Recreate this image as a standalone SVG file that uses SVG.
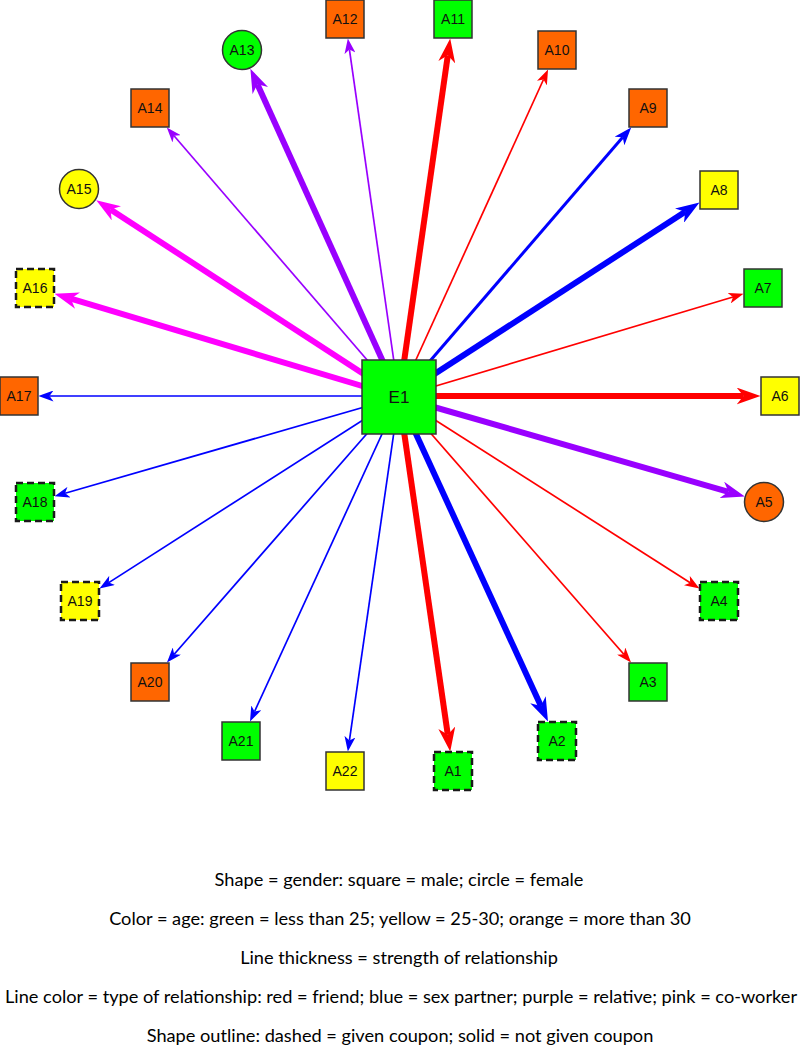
<svg xmlns="http://www.w3.org/2000/svg" width="800" height="1050" viewBox="0 0 800 1050">
<style>
.n{stroke:#333;stroke-width:1.5}
.d{stroke:#1a1a1a;stroke-width:2.5;stroke-dasharray:7,4}
.g{fill:#00ff00}.y{fill:#ffff00}.o{fill:#ff6600}
.t{font-family:"Liberation Sans",Arial,sans-serif;font-size:14px;fill:#111;text-anchor:middle;dominant-baseline:central}
.e{fill:none;stroke-linecap:butt}
.red{stroke:#ff0000}.blue{stroke:#0000ff}.pur{stroke:#9900ff}.pink{stroke:#ff00ff}
.thin{stroke-width:1.7}.mid{stroke-width:3}.thick{stroke-width:6}
.lg{font-family:Lato,"Noto Sans",sans-serif;font-size:18.2px;fill:#000;text-anchor:middle}
</style>
<defs>
<marker id="rT" markerUnits="userSpaceOnUse" viewBox="0 0 15 11" markerWidth="15" markerHeight="11" refX="4" refY="5.5" orient="auto"><path d="M0,0 L15,5.5 L0,11 L4,5.5 z" fill="#ff0000"/></marker>
<marker id="bT" markerUnits="userSpaceOnUse" viewBox="0 0 15 11" markerWidth="15" markerHeight="11" refX="4" refY="5.5" orient="auto"><path d="M0,0 L15,5.5 L0,11 L4,5.5 z" fill="#0000ff"/></marker>
<marker id="pT" markerUnits="userSpaceOnUse" viewBox="0 0 15 11" markerWidth="15" markerHeight="11" refX="4" refY="5.5" orient="auto"><path d="M0,0 L15,5.5 L0,11 L4,5.5 z" fill="#9900ff"/></marker>
<marker id="bM" markerUnits="userSpaceOnUse" viewBox="0 0 18 13" markerWidth="18" markerHeight="13" refX="5" refY="6.5" orient="auto"><path d="M0,0 L18,6.5 L0,13 L5,6.5 z" fill="#0000ff"/></marker>
<marker id="rK" markerUnits="userSpaceOnUse" viewBox="0 0 24 17" markerWidth="24" markerHeight="17" refX="7" refY="8.5" orient="auto"><path d="M0,0 L24,8.5 L0,17 L7,8.5 z" fill="#ff0000"/></marker>
<marker id="bK" markerUnits="userSpaceOnUse" viewBox="0 0 24 17" markerWidth="24" markerHeight="17" refX="7" refY="8.5" orient="auto"><path d="M0,0 L24,8.5 L0,17 L7,8.5 z" fill="#0000ff"/></marker>
<marker id="pK" markerUnits="userSpaceOnUse" viewBox="0 0 24 17" markerWidth="24" markerHeight="17" refX="7" refY="8.5" orient="auto"><path d="M0,0 L24,8.5 L0,17 L7,8.5 z" fill="#9900ff"/></marker>
<marker id="kK" markerUnits="userSpaceOnUse" viewBox="0 0 24 17" markerWidth="24" markerHeight="17" refX="7" refY="8.5" orient="auto"><path d="M0,0 L24,8.5 L0,17 L7,8.5 z" fill="#ff00ff"/></marker>
</defs>
<rect width="800" height="1050" fill="#fff"/>
<g id="connectors">
<line class="e red thick" x1="399" y1="397" x2="447.8" y2="734.7" marker-end="url(#rK)"/>
<line class="e blue thick" x1="399" y1="397" x2="540.9" y2="706.1" marker-end="url(#bK)"/>
<line class="e red thin" x1="399" y1="397" x2="623.8" y2="654.2" marker-end="url(#rT)"/>
<line class="e red thin" x1="399" y1="397" x2="690.2" y2="582.7" marker-end="url(#rT)"/>
<line class="e pur thick" x1="399" y1="397" x2="728.5" y2="491.8" marker-end="url(#pK)"/>
<line class="e red thick" x1="399" y1="396" x2="743.5" y2="396" marker-end="url(#rK)"/>
<line class="e red thin" x1="399" y1="397" x2="733" y2="297" marker-end="url(#rT)"/>
<line class="e blue thick" x1="399" y1="397" x2="685.2" y2="211.8" marker-end="url(#bK)"/>
<line class="e blue mid" x1="399" y1="397" x2="622.7" y2="137.3" marker-end="url(#bM)"/>
<line class="e red thin" x1="399" y1="397" x2="543.5" y2="79.5" marker-end="url(#rT)"/>
<line class="e red thick" x1="399" y1="397" x2="447.8" y2="55.3" marker-end="url(#rK)"/>
<line class="e pur thin" x1="399" y1="397" x2="349.4" y2="49.4" marker-end="url(#pT)"/>
<line class="e pur thick" x1="399" y1="397" x2="257.4" y2="84.2" marker-end="url(#pK)"/>
<line class="e pur thin" x1="399" y1="397" x2="174" y2="135.8" marker-end="url(#pT)"/>
<line class="e pink thick" x1="399" y1="397" x2="110.5" y2="209.5" marker-end="url(#kK)"/>
<line class="e pink thick" x1="399" y1="397" x2="70.8" y2="298.7" marker-end="url(#kK)"/>
<line class="e blue thin" x1="399" y1="396" x2="49.5" y2="396" marker-end="url(#bT)"/>
<line class="e blue thin" x1="399" y1="397" x2="65.1" y2="493.3" marker-end="url(#bT)"/>
<line class="e blue thin" x1="399" y1="397" x2="108.8" y2="582.6" marker-end="url(#bT)"/>
<line class="e blue thin" x1="399" y1="397" x2="174.2" y2="654.2" marker-end="url(#bT)"/>
<line class="e blue thin" x1="399" y1="397" x2="254.6" y2="711.5" marker-end="url(#bT)"/>
<line class="e blue thin" x1="399" y1="397" x2="349.4" y2="740.6" marker-end="url(#bT)"/>
</g>
<g id="E1"><rect class="n g" x="362" y="360" width="74" height="74"/><text class="t" x="399" y="397" style="font-size:17px">E1</text></g>
<g id="A1"><rect class="d g" x="434" y="752" width="38" height="38"/><text class="t" x="453" y="771">A1</text></g>
<g id="A2"><rect class="d g" x="538" y="722" width="38" height="38"/><text class="t" x="557" y="741">A2</text></g>
<g id="A3"><rect class="n g" x="629" y="663" width="38" height="38"/><text class="t" x="648" y="682">A3</text></g>
<g id="A4"><rect class="d g" x="700" y="582" width="38" height="38"/><text class="t" x="719" y="601">A4</text></g>
<g id="A5"><circle class="n o" cx="764" cy="502" r="19.5"/><text class="t" x="764" y="502">A5</text></g>
<g id="A6"><rect class="n y" x="761" y="377" width="38" height="38"/><text class="t" x="780" y="396">A6</text></g>
<g id="A7"><rect class="n g" x="744" y="269" width="38" height="38"/><text class="t" x="763" y="288">A7</text></g>
<g id="A8"><rect class="n y" x="700" y="171" width="38" height="38"/><text class="t" x="719" y="190">A8</text></g>
<g id="A9"><rect class="n o" x="629" y="89" width="38" height="38"/><text class="t" x="648" y="108">A9</text></g>
<g id="A10"><rect class="n o" x="538" y="31" width="38" height="38"/><text class="t" x="557" y="50">A10</text></g>
<g id="A11"><rect class="n g" x="434" y="0" width="38" height="38"/><text class="t" x="453" y="19">A11</text></g>
<g id="A12"><rect class="n o" x="326" y="0" width="38" height="38"/><text class="t" x="345" y="19">A12</text></g>
<g id="A13"><circle class="n g" cx="242" cy="50" r="19.5"/><text class="t" x="242" y="50">A13</text></g>
<g id="A14"><rect class="n o" x="131" y="89" width="38" height="38"/><text class="t" x="150" y="108">A14</text></g>
<g id="A15"><circle class="n y" cx="79" cy="189" r="19.5"/><text class="t" x="79" y="189">A15</text></g>
<g id="A16"><rect class="d y" x="16" y="269" width="38" height="38"/><text class="t" x="35" y="288">A16</text></g>
<g id="A17"><rect class="n o" x="0" y="377" width="38" height="38"/><text class="t" x="19" y="396">A17</text></g>
<g id="A18"><rect class="d g" x="16" y="483" width="38" height="38"/><text class="t" x="35" y="502">A18</text></g>
<g id="A19"><rect class="d y" x="61" y="582" width="38" height="38"/><text class="t" x="80" y="601">A19</text></g>
<g id="A20"><rect class="n o" x="131" y="663" width="38" height="38"/><text class="t" x="150" y="682">A20</text></g>
<g id="A21"><rect class="n g" x="222" y="722" width="38" height="38"/><text class="t" x="241" y="741">A21</text></g>
<g id="A22"><rect class="n y" x="326" y="752" width="38" height="38"/><text class="t" x="345" y="771">A22</text></g>
<g id="legend">
<text class="lg" x="399" y="886">Shape = gender: square = male; circle = female</text>
<text class="lg" x="400" y="925">Color = age: green = less than 25; yellow = 25-30; orange = more than 30</text>
<text class="lg" x="399" y="964">Line thickness = strength of relationship</text>
<text class="lg" x="401" y="1003" textLength="792" lengthAdjust="spacing">Line color = type of relationship: red = friend; blue = sex partner; purple = relative; pink = co-worker</text>
<text class="lg" x="400" y="1042">Shape outline: dashed = given coupon; solid = not given coupon</text>
</g>
</svg>
